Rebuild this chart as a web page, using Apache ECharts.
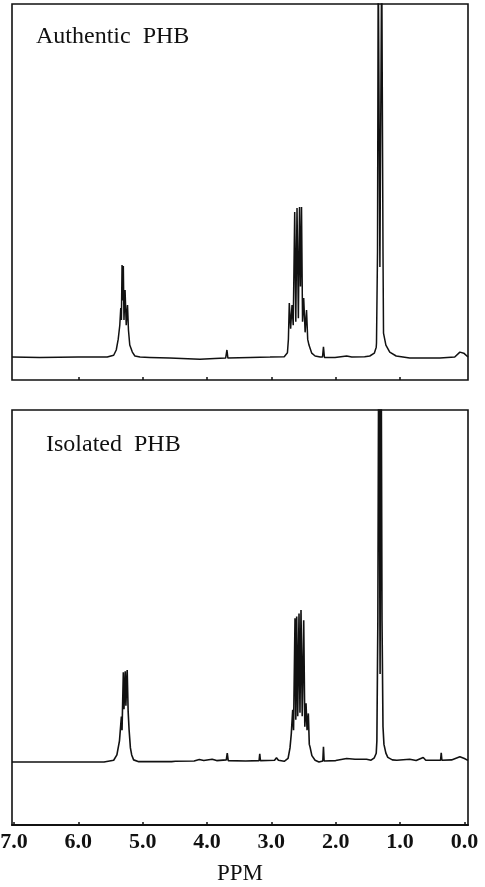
<!DOCTYPE html>
<html>
<head>
<meta charset="utf-8">
<script src="https://cdn.jsdelivr.net/npm/echarts@6/dist/echarts.min.js"></script>
<style>
html,body{margin:0;padding:0;background:#fff;}
#chart{width:485px;height:887px;}
</style>
</head>
<body>
<div id="chart"></div>
<script>
// Chemical shift tick values and labels
var tickValues = [0, 1, 2, 3, 4, 5, 6, 7];
var tickLabels = ['0.0', '1.0', '2.0', '3.0', '4.0', '5.0', '6.0', '7.0'];
var panelTitles = ['Authentic  PHB', 'Isolated  PHB'];
var axisName = 'PPM';

// Authentic PHB spectrum: [ppm, intensity] (full scale = 100)
var authenticSpectrum = [
  [7.03,0],[6.6,-0.1],[6.0,0],[5.55,0],[5.45,0.5],[5.41,2],[5.38,5],[5.355,9],[5.34,13.9],[5.33,10.5],
  [5.32,26.1],[5.31,16],[5.30,25.8],[5.29,10.5],[5.273,19],[5.255,9],[5.235,14.7],[5.22,7.6],[5.20,3.4],
  [5.16,1.4],[5.12,0.3],[5.04,0],[4.89,-0.1],[4.58,-0.3],[4.11,-0.6],[3.88,-0.4],[3.71,-0.3],[3.69,2.0],
  [3.675,-0.3],[3.33,-0.1],[3.02,0],[2.80,0.1],[2.75,1.2],[2.735,5],[2.721,15.3],[2.70,8],[2.679,14.7],
  [2.66,9],[2.637,41.1],[2.62,10],[2.601,42.2],[2.58,11],[2.562,42.5],[2.547,20],[2.531,42.5],[2.515,10],
  [2.497,16.7],[2.475,7],[2.453,13.3],[2.435,5],[2.415,3.4],[2.372,1.1],[2.32,0.3],[2.24,0],[2.205,0],
  [2.19,2.9],[2.175,-0.1],[2.01,-0.1],[1.83,0.3],[1.81,0.5],[1.75,0],[1.55,0.1],[1.47,0.3],[1.40,1.1],
  [1.37,2.8],[1.366,4.0],[1.35,30],[1.339,115],[1.313,25.5],[1.285,115],[1.265,30],[1.257,6.8],[1.22,3.4],
  [1.16,1.4],[1.06,0.3],[0.85,-0.3],[0.38,-0.3],[0.15,0],[0.07,1.4],[0.01,1.1],[-0.056,0]
];

// Isolated PHB spectrum: [ppm, intensity] (full scale = 100)
var isolatedSpectrum = [
  [7.03,0],[6.5,0],[6.0,0],[5.6,0],[5.45,0.5],[5.40,2],[5.36,6],[5.33,12.9],[5.32,9],[5.30,25.5],
  [5.29,15],[5.27,25.8],[5.26,16],[5.24,26.1],[5.225,14.3],[5.21,9],[5.19,4],[5.17,2],[5.14,0.6],
  [5.06,0.1],[4.90,0.1],[4.55,0.1],[4.52,0.6],[4.49,0.2],[4.20,0.3],[4.12,0.7],[4.05,0.4],[3.92,0.8],
  [3.85,0.4],[3.70,0.6],[3.685,2.5],[3.67,0.4],[3.40,0.3],[3.19,0.4],[3.18,2.3],[3.17,0.4],[2.95,0.5],
  [2.92,1.2],[2.89,0.5],[2.80,0.2],[2.74,1.0],[2.71,4],[2.69,8],[2.668,14.8],[2.655,9],[2.632,40.8],
  [2.62,12],[2.606,41.3],[2.59,13],[2.57,42.2],[2.555,14],[2.539,43.2],[2.52,13],[2.497,40.3],[2.48,10],
  [2.461,16.7],[2.445,9],[2.425,13.8],[2.41,5],[2.399,4.3],[2.37,1.8],[2.32,0.5],[2.26,0],[2.20,0.3],
  [2.19,4.3],[2.18,0.3],[2.00,0.4],[1.83,1.0],[1.70,0.8],[1.52,0.8],[1.45,0.5],[1.40,1.2],[1.37,2.5],
  [1.36,6],[1.345,40],[1.33,130],[1.31,25],[1.295,130],[1.28,40],[1.265,10],[1.25,5],[1.22,2.5],
  [1.19,1.3],[1.12,0.6],[1.05,0.5],[0.85,0.8],[0.75,0.4],[0.64,1.3],[0.60,0.5],[0.37,0.5],[0.36,2.6],
  [0.35,0.5],[0.20,0.6],[0.07,1.5],[0.0,1.0],[-0.04,0.6],[-0.056,0.5]
];

var serif = '"Liberation Serif", "DejaVu Serif", serif';
var ink = '#111';

var chart = echarts.init(document.getElementById('chart'), null, {renderer: 'canvas'});

function labelFor(v) {
  var i = tickValues.indexOf(Math.round(v));
  return i >= 0 ? tickLabels[i] : '';
}

var option = {
  animation: false,
  backgroundColor: '#fff',
  title: [
    {text: panelTitles[0], left: 31, top: 20,
     textStyle: {fontFamily: serif, fontSize: 24, fontWeight: 'normal', color: ink}},
    {text: panelTitles[1], left: 41, top: 428,
     textStyle: {fontFamily: serif, fontSize: 24, fontWeight: 'normal', color: ink}}
  ],
  grid: [
    {left: 12, right: 17, top: 4, height: 376, show: true, borderColor: ink, borderWidth: 1.6,
     containLabel: false, outerBoundsMode: 'none'},
    {left: 12, right: 17, top: 410, height: 415, show: true, borderColor: ink, borderWidth: 1.6,
     containLabel: false, outerBoundsMode: 'none'}
  ],
  xAxis: [
    {gridIndex: 0, type: 'value', min: -0.056, max: 7.03, inverse: true,
     splitLine: {show: false}, axisLine: {show: false, onZero: false},
     axisTick: {show: true, inside: true, length: 3, lineStyle: {color: ink, width: 1.5},
                customValues: tickValues.slice(1, 7)},
     axisLabel: {show: false}},
    {gridIndex: 1, type: 'value', min: -0.056, max: 7.03, inverse: true,
     splitLine: {show: false},
     axisLine: {show: true, onZero: false, lineStyle: {color: ink, width: 2}},
     axisTick: {show: true, inside: true, length: 3, lineStyle: {color: ink, width: 1.5},
                customValues: tickValues},
     axisLabel: {show: true, margin: 6, fontFamily: serif, fontSize: 22, fontWeight: 'bold', color: ink,
                 customValues: tickValues, formatter: labelFor},
     name: axisName, nameLocation: 'middle', nameGap: 37,
     nameTextStyle: {fontFamily: serif, fontSize: 23, color: ink}}
  ],
  yAxis: [
    {gridIndex: 0, type: 'value', min: -6.5, max: 100, show: false},
    {gridIndex: 1, type: 'value', min: -17.9, max: 100, show: false}
  ],
  series: [
    {type: 'line', xAxisIndex: 0, yAxisIndex: 0, data: authenticSpectrum,
     symbol: 'none', clip: true, lineStyle: {color: ink, width: 1.5}},
    {type: 'line', xAxisIndex: 1, yAxisIndex: 1, data: isolatedSpectrum,
     symbol: 'none', clip: true, lineStyle: {color: ink, width: 1.6}}
  ]
};
chart.setOption(option);
</script>
</body>
</html>
